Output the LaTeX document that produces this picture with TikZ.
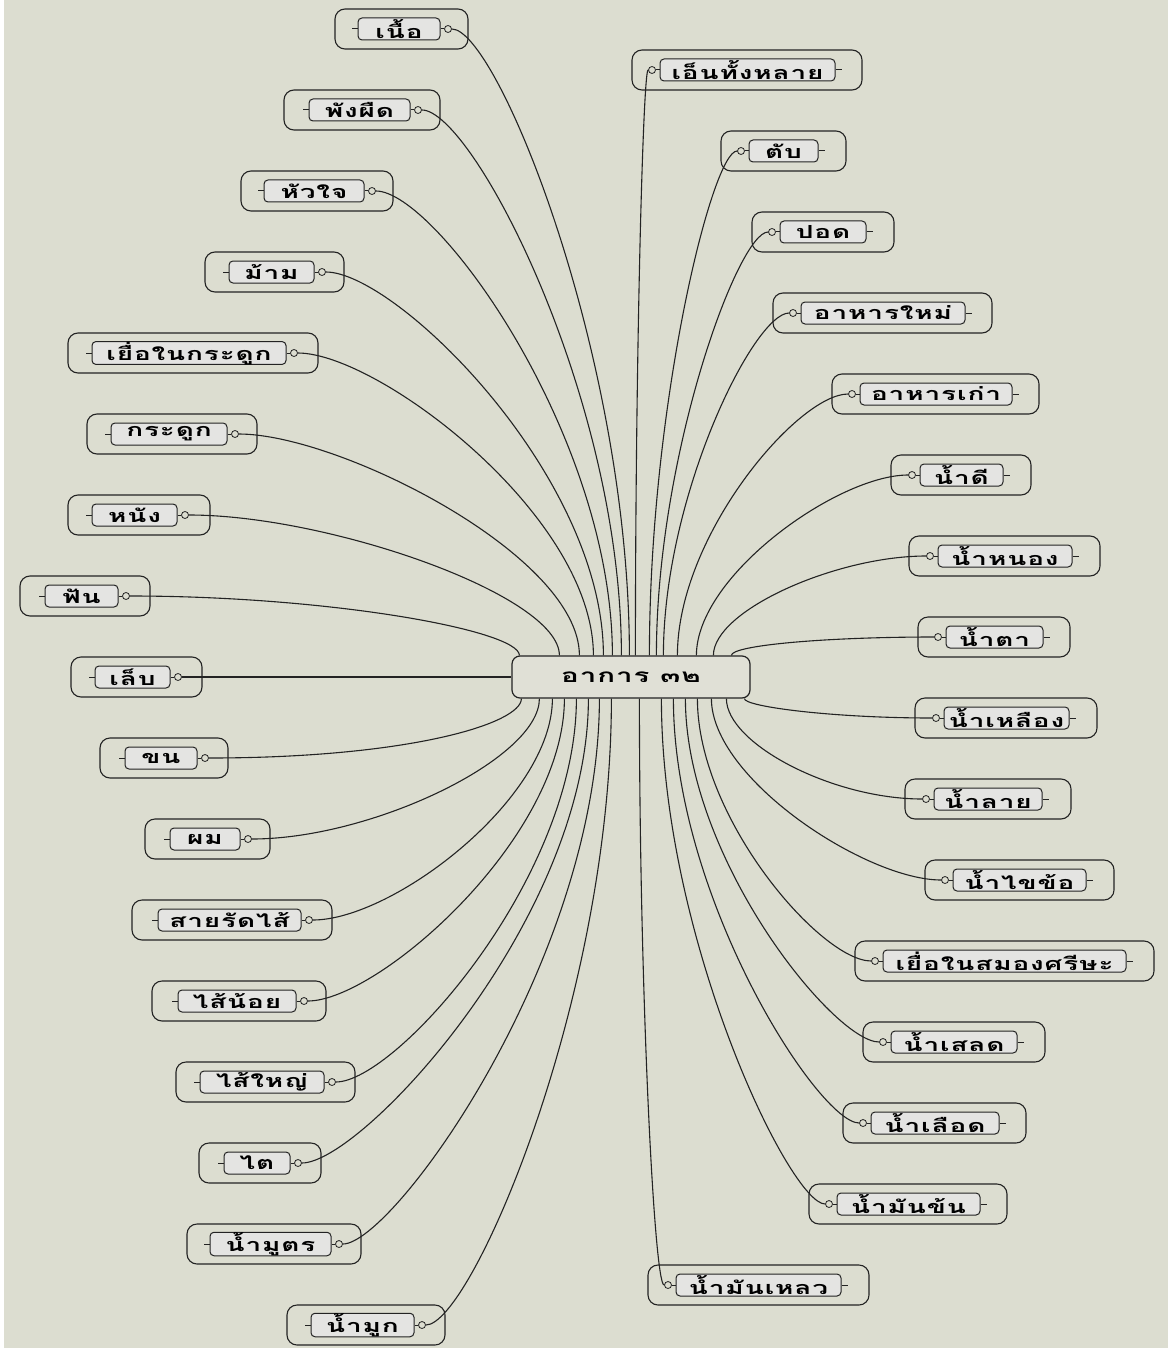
\documentclass[tikz,border=0pt]{standalone}
\usepackage{fontspec}
\usetikzlibrary{calc}
\newfontfamily\thaifont[Script=Thai,FakeStretch=1.55,LetterSpace=5]{Loma}
\definecolor{bgc}{RGB}{220,221,208}
\definecolor{innerc}{RGB}{228,228,226}
\definecolor{linec}{RGB}{35,35,35}
\definecolor{ctrc}{RGB}{224,224,214}
\tikzset{
  outerbox/.style={draw=linec, line width=1.1pt, rounded corners=10pt, minimum height=40pt, inner sep=0pt},
  innerbox/.style={draw=linec, line width=1pt, fill=innerc, rounded corners=4pt, minimum height=22pt, inner sep=0pt,
     font=\thaifont\bfseries\fontsize{18}{18}\selectfont, text=black},
  knob/.style={circle, draw=linec, fill=bgc, line width=0.8pt, minimum size=7pt, inner sep=0pt},
  conn/.style={draw=linec, line width=1.1pt},
  tick/.style={draw=linec, line width=1pt},
  centerbox/.style={draw=linec, line width=1.2pt, fill=ctrc, rounded corners=8pt, minimum width=238pt, minimum height=42pt,
     inner sep=0pt, font=\thaifont\bfseries\fontsize{19}{19}\selectfont}
}
\begin{document}
\begin{tikzpicture}[x=1pt,y=-1pt]
\useasboundingbox (0,0) rectangle (1168,1348);
\fill[white] (0,0) rectangle (1168,1348);
\fill[bgc] (4,0) rectangle (1168,1348);
\node[centerbox] (ctr) at (631,677) {อาการ ๓๒};
% left leaves: name/text/oL/oR/iL/iR/y/edge/offset/H/V
\foreach \n/\t/\oL/\oR/\iL/\iR/\y/\edge/\ex/\H/\V in {
  l1/เนื้อ/335/468/358/440/29/north west/118/45/-300,
  l2/พังผืด/284/440/309/410/110/north west/110/50/-260,
  l3/หัวใจ/241/393/264/364/191/north west/101/60/-220,
  l4/ม้าม/205/344/229/314/272/north west/92/70/-180,
  l5/เยื่อในกระดูก/68/318/92/286/353/north west/82/80/-140,
  l6/กระดูก/87/257/111/227/434/north west/68/100/-100,
  l7/หนัง/68/210/92/177/515/north west/48/140/-60,
  l8/ฟัน/20/150/45/118/596/north west/8/200/-25,
  l10/ขน/100/228/125/197/758/south west/10/200/25,
  l11/ผม/145/270/170/240/839/south west/28/120/60,
  l12/สายรัดไส้/132/332/158/301/920/south west/41/80/100,
  l13/ไส้น้อย/152/326/178/296/1001/south west/53/70/140,
  l14/ไส้ใหญ่/176/355/200/324/1082/south west/65/60/180,
  l15/ไต/199/321/224/290/1163/south west/77/60/220,
  l16/น้ำมูตร/187/361/210/331/1244/south west/88/50/260,
  l17/น้ำมูก/287/445/311/414/1325/south west/100/45/300}{
  \node[outerbox, minimum width={(\oR-\oL)*1pt}] (\n o) at ({(\oL+\oR)/2},\y) {};
  \node[innerbox, minimum width={(\iR-\iL)*1pt}] (\n) at ({(\iL+\iR)/2},\y) {\t};
  \draw[tick] (\n.west) -- ++(-6,0);
  \node[knob] (\n k) at (\iR+8,\y) {};
  \draw[tick] (\n.east) -- (\n k.west);
  \draw[conn] (\n k.east) .. controls +(\H,0) and +(0,\V) .. ($(ctr.\edge)+(\ex,0)$);
}
% left straight leaf
\node[outerbox, minimum width=131pt] (l9o) at (136.5,677) {};
\node[innerbox, minimum width=75pt] (l9) at (132.5,677) {เล็บ};
\draw[tick] (l9.west) -- ++(-6,0);
\node[knob] (l9k) at (178,677) {};
\draw[tick] (l9.east) -- (l9k.west);
\draw[conn] (l9k.east) -- (l9k.east -| ctr.west);
% right leaves
\foreach \n/\t/\oL/\oR/\iL/\iR/\y/\edge/\ex/\H/\V in {
  r1/เอ็นทั้งหลาย/632/862/660/835/70/north west/124/5/-300,
  r2/ตับ/721/846/749/818/151/north west/138/25/-250,
  r3/ปอด/752/894/780/866/232/north west/145/30/-200,
  r4/อาหารใหม่/773/992/801/965/313/north west/152/35/-160,
  r5/อาหารเก่า/832/1039/860/1012/394/north west/166/50/-120,
  r6/น้ำดี/891/1031/920/1003/475/north west/185/70/-80,
  r7/น้ำหนอง/909/1100/938/1072/556/north west/202/90/-45,
  r8/น้ำตา/918/1070/946/1043/637/north west/220/110/-10,
  r9/น้ำเหลือง/915/1097/944/1069/718/south west/233/100/8,
  r10/น้ำลาย/905/1071/934/1042/799/south west/215/90/45,
  r11/น้ำไขข้อ/925/1114/953/1086/880/south west/200/75/80,
  r12/เยื่อในสมองศรีษะ/855/1154/883/1126/961/south west/186/50/120,
  r13/น้ำเสลด/863/1045/891/1017/1042/south west/174/45/160,
  r14/น้ำเลือด/843/1026/871/999/1123/south west/162/40/200,
  r15/น้ำมันข้น/809/1007/837/980/1204/south west/150/35/240,
  r16/น้ำมันเหลว/648/869/676/841/1285/south west/128/10/290}{
  \node[outerbox, minimum width={(\oR-\oL)*1pt}] (\n o) at ({(\oL+\oR)/2},\y) {};
  \node[innerbox, minimum width={(\iR-\iL)*1pt}] (\n) at ({(\iL+\iR)/2},\y) {\t};
  \draw[tick] (\n.east) -- ++(6,0);
  \node[knob] (\n k) at (\iL-8,\y) {};
  \draw[tick] (\n k.east) -- (\n.west);
  \draw[conn] (\n k.west) .. controls +(-\H,0) and +(0,\V) .. ($(ctr.\edge)+(\ex,0)$);
}
\end{tikzpicture}
\end{document}
